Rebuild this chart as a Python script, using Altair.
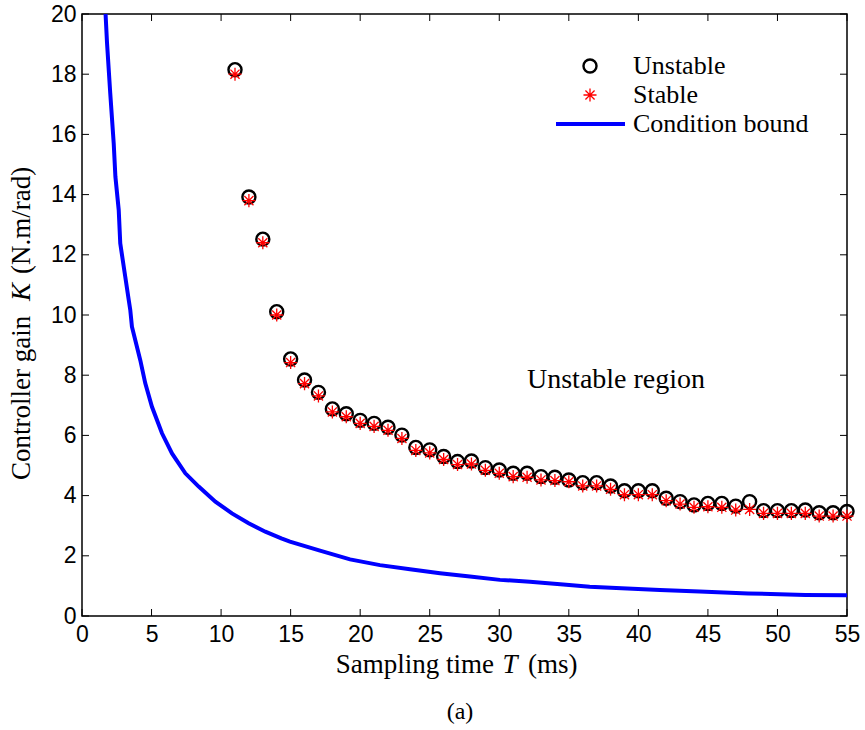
import altair as alt
import pandas as pd

# ---------------- data ----------------
T_unstable = list(range(11, 56))
K_unstable = [18.15, 13.92, 12.52, 10.11, 8.54, 7.84, 7.43, 6.88, 6.72, 6.50,
              6.40, 6.27, 6.01, 5.60, 5.52, 5.30, 5.13, 5.15, 4.93, 4.85,
              4.74, 4.74, 4.63, 4.61, 4.52, 4.43, 4.43, 4.32, 4.16, 4.16,
              4.16, 3.91, 3.80, 3.69, 3.74, 3.74, 3.65, 3.80, 3.50, 3.50,
              3.50, 3.52, 3.43, 3.43, 3.47]
T_stable = list(range(11, 56))
K_stable = [18.00, 13.80, 12.40, 10.00, 8.42, 7.72, 7.31, 6.78, 6.62, 6.40,
            6.30, 6.17, 5.90, 5.50, 5.42, 5.20, 5.03, 5.05, 4.84, 4.74,
            4.63, 4.61, 4.52, 4.50, 4.46, 4.32, 4.32, 4.21, 4.03, 4.03,
            4.03, 3.83, 3.72, 3.61, 3.63, 3.61, 3.52, 3.54, 3.41, 3.41,
            3.41, 3.41, 3.32, 3.32, 3.32]
T_bound = [1.68, 1.80, 2.03, 2.28, 2.40, 2.64, 2.75, 3.11, 3.36, 3.47, 3.59,
           4.19, 4.55, 5.03, 5.75, 6.47, 7.43, 8.39, 9.59, 10.78, 11.98,
           13.18, 14.33, 14.95, 17.11, 19.27, 21.42, 23.58, 25.74, 27.89,
           30.05, 32.2, 34.6, 36.5, 38.8, 41.55, 44.4, 47.9, 52.0, 55.0]
K_bound = [20.13, 19.03, 17.37, 15.70, 14.60, 13.49, 12.38, 11.27, 10.50, 10.17,
           9.61, 8.50, 7.73, 6.95, 6.07, 5.40, 4.74, 4.30, 3.80, 3.41, 3.08,
           2.80, 2.58, 2.47, 2.17, 1.88, 1.69, 1.55, 1.42, 1.31,
           1.20, 1.14, 1.05, 0.97, 0.92, 0.86, 0.81, 0.75, 0.70, 0.69]
x_ticks = list(range(0, 56, 5))
y_ticks = list(range(0, 21, 2))

legend_labels = ["Unstable", "Stable", "Condition bound"]

W, H = 765, 602
SERIF = "Liberation Serif"
SANS = "Liberation Sans"
STAR = "M0,-1L0,1M-1,0L1,0M-0.7,-0.7L0.7,0.7M-0.7,0.7L0.7,-0.7"

xs = alt.Scale(domain=[0, 55], nice=False, zero=False)
ys = alt.Scale(domain=[0, 20], nice=False, zero=False)

x_axis = alt.Axis(values=x_ticks, ticks=False, domain=False, grid=False, title=None,
                  labelFont=SANS, labelFontSize=23, labelColor="#000",
                  labelPadding=7, labelFlush=False)
y_axis = alt.Axis(values=y_ticks, ticks=False, domain=False, grid=False, title=None,
                  labelFont=SANS, labelFontSize=23, labelColor="#000",
                  labelPadding=6, labelFlush=False)

X = alt.X("T:Q", scale=xs, axis=x_axis)
Y = alt.Y("K:Q", scale=ys, axis=y_axis)

df_u = pd.DataFrame({"T": T_unstable, "K": K_unstable})
df_s = pd.DataFrame({"T": T_stable, "K": K_stable})
df_b = pd.DataFrame({"T": T_bound, "K": K_bound})
df_xt = pd.DataFrame({"T": x_ticks})
df_yt = pd.DataFrame({"K": y_ticks})

bound = alt.Chart(df_b).mark_line(color="#0000FF", strokeWidth=4, clip=True).encode(x=X, y=Y)
unstable = alt.Chart(df_u).mark_point(shape="circle", filled=False, color="#000",
                                      strokeWidth=2.4, size=170, opacity=1).encode(x=X, y=Y)
stable = alt.Chart(df_s).mark_point(shape=STAR, filled=False, color="#FF0000",
                                    strokeWidth=1.3, size=170, opacity=1).encode(x=X, y=Y)

# inward ticks on all four sides
tick_style = dict(color="#000", strokeWidth=1)
tb = alt.Chart(df_xt).mark_rule(**tick_style).encode(
    x=X, y=alt.value(H), y2=alt.value(H - 7))
tt = alt.Chart(df_xt).mark_rule(**tick_style).encode(
    x=X, y=alt.value(0), y2=alt.value(7))
tl = alt.Chart(df_yt).mark_rule(**tick_style).encode(
    y=Y, x=alt.value(0), x2=alt.value(7))
tr = alt.Chart(df_yt).mark_rule(**tick_style).encode(
    y=Y, x=alt.value(W), x2=alt.value(W - 7))

def label(text, x, y, size=28, align="left", style="normal", angle=0, baseline="middle"):
    return alt.Chart(pd.DataFrame({"t": [text]})).mark_text(
        font=SERIF, fontSize=size, fontStyle=style, align=align, baseline=baseline,
        angle=angle, color="#000").encode(x=alt.value(x), y=alt.value(y), text="t:N")

# legend (manual, inside top-right)
LEG_Y = [52, 81, 110]
leg_circle = alt.Chart(pd.DataFrame({"a": [0]})).mark_point(
    shape="circle", filled=False, color="#000", strokeWidth=2.4, size=170, opacity=1
).encode(x=alt.value(508), y=alt.value(LEG_Y[0]))
leg_star = alt.Chart(pd.DataFrame({"a": [0]})).mark_point(
    shape=STAR, filled=False, color="#FF0000", strokeWidth=1.3, size=170, opacity=1
).encode(x=alt.value(508), y=alt.value(LEG_Y[1]))
leg_line = alt.Chart(pd.DataFrame({"a": [0]})).mark_rule(color="#0000FF", strokeWidth=4).encode(
    x=alt.value(474), x2=alt.value(543), y=alt.value(LEG_Y[2]))
leg_texts = [label(t, 551, y, size=26) for t, y in zip(legend_labels, LEG_Y)]

TS = 27
texts = [
    label("Unstable region", 445, 366),
    label("Sampling time", 412, 651, size=TS, align="right"),
    label("T", 428, 651, size=TS, align="center", style="italic"),
    label("(ms)", 446, 651, size=TS, align="left"),
    label("Controller gain", -60, 466, size=TS, align="left", angle=270),
    label("K", -60, 278, size=TS, align="center", style="italic", angle=270),
    label("(N.m/rad)", -60, 260, size=TS, align="left", angle=270),
    label("(a)", 378, 698, size=24, align="center"),
]

chart = alt.layer(
    bound, unstable, stable, tb, tt, tl, tr,
    leg_circle, leg_star, leg_line, *leg_texts, *texts
).properties(
    width=W, height=H,
    padding={"left": 82, "top": 14, "right": 18, "bottom": 114},
    autosize=alt.AutoSizeParams(type="none"),
    background="white",
).configure_view(stroke="#000", strokeWidth=1.5)

chart.save("out.html", embed_options={"renderer": "svg", "actions": False})
